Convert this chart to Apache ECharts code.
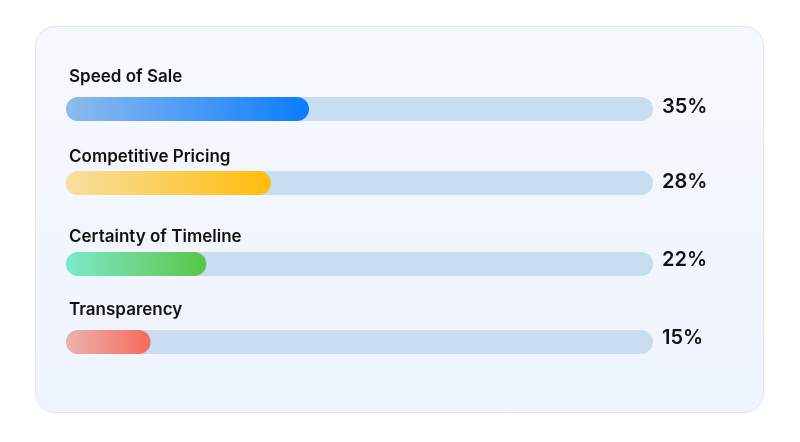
<!DOCTYPE html>
<html>
<head>
<meta charset="utf-8">
<script src="https://cdn.jsdelivr.net/npm/echarts@6/dist/echarts.min.js"></script>
<style>
  html, body { margin: 0; padding: 0; background: #ffffff; }
  #card {
    position: absolute; left: 35px; top: 26px; width: 729px; height: 387px;
    box-sizing: border-box; border: 1px solid #e1e4e9; border-radius: 20px;
    background: linear-gradient(180deg, #f6f9fd 0%, #eef4fe 100%);
  }
  #chart { position: absolute; left: 0; top: 0; width: 800px; height: 442px; }
</style>
</head>
<body>
<div id="card"></div>
<div id="chart"></div>
<script>
// Data
const categories = ['Speed of Sale', 'Competitive Pricing', 'Certainty of Timeline', 'Transparency'];
const shareLabels = [35, 28, 22, 15];          // percent text shown at right
const fillLengths = [41.4, 34.9, 23.9, 14.4];   // bar fill (0-100 track)
const trackMax = 100;

// Style / layout (not data)
const gradients = [
  ['#8fbbec', '#0a7cff'],
  ['#f8dfa0', '#ffbd0b'],
  ['#7fe8cb', '#58c646'],
  ['#e9b4ad', '#f86a5a']
];
const gridTops = [97, 171, 252, 330];
const nameOffsets = [-29, -23, -24, -29];
const pctShiftUp = [2.5, 1.5, 4, 4];

const grids = [], xAxes = [], yAxes = [], series = [];
categories.forEach((cat, i) => {
  grids.push({ left: 66, right: 147, top: gridTops[i], height: 24 });
  xAxes.push({ type: 'value', gridIndex: i, min: 0, max: trackMax, show: false });
  yAxes.push({
    type: 'category', gridIndex: i, data: [cat], position: 'right',
    axisLine: { show: false }, axisTick: { show: false }, splitLine: { show: false },
    axisLabel: {
      show: true, margin: 9, align: 'left', verticalAlign: 'bottom',
      lineHeight: pctShiftUp[i] * 2,
      formatter: () => shareLabels[i] + '%',
      fontFamily: 'Inter', fontSize: 20, fontWeight: 600, color: '#111111'
    }
  });
  series.push({
    type: 'bar', xAxisIndex: i, yAxisIndex: i,
    data: [fillLengths[i]],
    barWidth: 24,
    showBackground: true,
    backgroundStyle: { color: '#c9ddf1', borderRadius: 12 },
    itemStyle: {
      borderRadius: 12,
      color: new echarts.graphic.LinearGradient(0, 0, 1, 0, [
        { offset: 0, color: gradients[i][0] },
        { offset: 1, color: gradients[i][1] }
      ])
    },
    label: {
      show: true, position: [3, nameOffsets[i]],
      formatter: '{b}',
      fontFamily: 'Inter', fontSize: 17, fontWeight: 600, color: '#111111'
    },
    silent: true,
    animation: false
  });
});

const chart = echarts.init(document.getElementById('chart'), null, { renderer: 'canvas' });
chart.setOption({
  backgroundColor: 'transparent',
  animation: false,
  grid: grids, xAxis: xAxes, yAxis: yAxes, series: series
});
</script>
</body>
</html>
